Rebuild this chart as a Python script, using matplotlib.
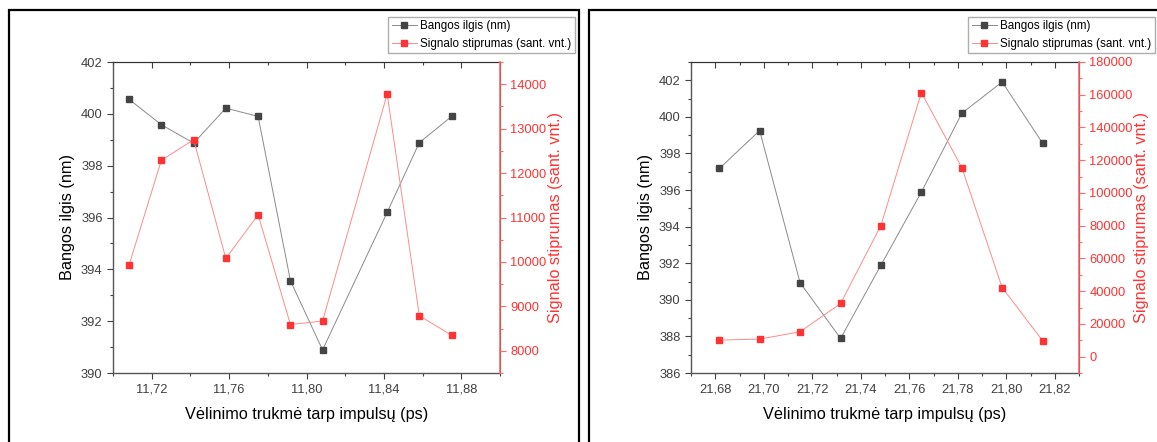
import matplotlib
matplotlib.use("Agg")
import matplotlib.pyplot as plt
from matplotlib.ticker import MultipleLocator, FuncFormatter
from matplotlib.patches import Rectangle

plt.rcParams["font.family"] = ["Liberation Sans", "DejaVu Sans"]

# --- data ---
delay_a = [11.7083, 11.7250, 11.7417, 11.7583, 11.7750, 11.7917, 11.8083,
           11.8417, 11.8583, 11.8750]
wave_a = [400.56, 399.58, 398.87, 400.22, 399.90, 393.56, 390.89,
          396.20, 398.89, 399.90]
signal_a = [9930, 12290, 12750, 10080, 11060, 8590, 8670, 13780, 8790, 8350]

delay_b = [21.6817, 21.6983, 21.7150, 21.7317, 21.7483, 21.7650, 21.7817,
           21.7983, 21.8150]
wave_b = [397.18, 399.25, 390.93, 387.89, 391.89, 395.89, 400.20, 401.91, 398.56]
signal_b = [10100, 10700, 15200, 32500, 80100, 161300, 115400, 42200, 9700]

xlabel = "Vėlinimo trukmė tarp impulsų (ps)"
ylabel_left = "Bangos ilgis (nm)"
ylabel_right = "Signalo stiprumas (sant. vnt.)"

DARK = "#444444"
DARK_LINE = "#8a8a8a"
RED = "#ff3333"
RED_LINE = "#ff8a8a"
RED_AXIS = "#ff6b6b"
TICK_GRAY = "#404040"


def comma(v, pos):
    return f"{v:.2f}".replace(".", ",")


def panel(fig, rect, x, wave, sig, xlim, xmaj, xmin, ylim, ymaj, ymin,
          y2lim, y2maj, y2min):
    ax = fig.add_axes(rect)
    ax2 = ax.twinx()

    l1, = ax.plot(x, wave, color=DARK_LINE, lw=0.7, marker="s", ms=4.6,
                  mfc=DARK, mec=DARK, label=ylabel_left, zorder=3)
    l2, = ax2.plot(x, sig, color=RED_LINE, lw=0.7, marker="s", ms=4.6,
                   mfc=RED, mec=RED, label=ylabel_right, zorder=3)

    ax.set_xlim(*xlim)
    ax.set_ylim(*ylim)
    ax2.set_ylim(*y2lim)

    ax.xaxis.set_major_locator(MultipleLocator(xmaj))
    ax.xaxis.set_minor_locator(MultipleLocator(xmin))
    ax.xaxis.set_major_formatter(FuncFormatter(comma))
    ax.yaxis.set_major_locator(MultipleLocator(ymaj))
    ax.yaxis.set_minor_locator(MultipleLocator(ymin))
    ax2.yaxis.set_major_locator(MultipleLocator(y2maj))
    ax2.yaxis.set_minor_locator(MultipleLocator(y2min))

    ax.tick_params(which="major", direction="out", length=4, width=0.8,
                   labelsize=9.3, labelcolor=TICK_GRAY, color=TICK_GRAY,
                   top=False, right=False)
    ax.tick_params(which="minor", direction="out", length=2.5, width=0.8,
                   color=TICK_GRAY, top=False, right=False)
    ax2.tick_params(which="major", direction="out", length=4, width=0.8,
                    labelsize=9.3, labelcolor=RED, color=RED_AXIS)
    ax2.tick_params(which="minor", direction="out", length=2.5, width=0.8,
                    color=RED_AXIS)

    # mirrored ticks on top, pointing inward
    top = ax.secondary_xaxis("top")
    top.xaxis.set_major_locator(MultipleLocator(xmaj))
    top.xaxis.set_minor_locator(MultipleLocator(xmin))
    top.tick_params(which="major", direction="in", length=4, width=0.8,
                    labeltop=False, color=TICK_GRAY)
    top.tick_params(which="minor", direction="in", length=2.5, width=0.8,
                    color=TICK_GRAY)
    top.spines["top"].set_color("#333333")

    for s in ("left", "bottom"):
        ax.spines[s].set_color("#555555")
        ax.spines[s].set_linewidth(1.0)
    ax.spines["top"].set_color("#333333")
    ax2.spines["right"].set_color(RED_AXIS)
    ax2.spines["right"].set_linewidth(1.2)
    ax2.spines["left"].set_visible(False)
    ax2.spines["top"].set_visible(False)
    ax2.spines["bottom"].set_visible(False)

    ax.set_xlabel(xlabel, fontsize=11.7, labelpad=8)
    ax.set_ylabel(ylabel_left, fontsize=11.7, labelpad=4)
    ax2.set_ylabel(ylabel_right, fontsize=11.7, color=RED, labelpad=1)
    return ax, ax2, (l1, l2)


W, H = 1157, 442
fig = plt.figure(figsize=(W / 100, H / 100), dpi=100)

# left panel: axes box x 113..500, y 62..373 (pixels)
ax_a, ax2_a, h_a = panel(
    fig, [113 / W, 1 - 373 / H, 387 / W, 311 / H],
    delay_a, wave_a, signal_a,
    (11.70, 11.90), 0.04, 0.02, (390, 402), 2, 1,
    (7500, 14500), 1000, 500)

# right panel: axes box x 691..1079, y 62..373
ax_b, ax2_b, h_b = panel(
    fig, [691 / W, 1 - 373 / H, 388 / W, 311 / H],
    delay_b, wave_b, signal_b,
    (21.67, 21.83), 0.02, 0.01, (386, 403), 2, 1,
    (-10000, 180000), 20000, 10000)

# legends in figure pixels
for handles, x0 in ((h_a, 388), (h_b, 968)):
    fig.legend(handles, [h.get_label() for h in handles],
               loc="upper left", bbox_to_anchor=(x0 / W, 1 - 17 / H),
               fontsize=8.4, frameon=True, fancybox=False, edgecolor="#999999",
               borderpad=0.3, labelspacing=0.45, handlelength=2.2,
               handletextpad=0.25, borderaxespad=0)

# panel frames
fig.add_artist(Rectangle((9 / W, -0.05), (579 - 9) / W, 1.05 - 10 / H,
                         transform=fig.transFigure, fill=False,
                         edgecolor="black", linewidth=1.6))
fig.add_artist(Rectangle((589 / W, -0.05), (1165 - 589) / W, 1.05 - 10 / H,
                         transform=fig.transFigure, fill=False,
                         edgecolor="black", linewidth=1.6))

fig.savefig("out.png", dpi=100)
plt.close(fig)
